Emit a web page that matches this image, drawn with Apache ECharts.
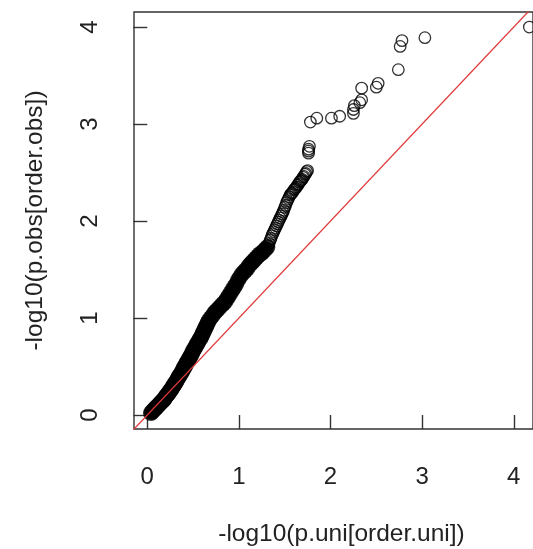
<!DOCTYPE html>
<html>
<head>
<meta charset="utf-8">
<script src="https://cdn.jsdelivr.net/npm/echarts@6/dist/echarts.min.js"></script>
<style>
  html, body { margin: 0; padding: 0; background: #fff; }
  #main { width: 533px; height: 549px; }
</style>
</head>
<body>
<div id="main"></div>
<script>
// tick positions on both axes
var xTicks = [0, 1, 2, 3, 4];
var yTicks = [0, 1, 2, 3, 4];

// lower part of the qq curve: so many points that the circles merge into a black band
var denseX = [0.04,0.05,0.06,0.07,0.08,0.09,0.10,0.11,0.12,0.13,0.14,0.15,0.16,0.17,0.18,0.19,0.20,
  0.21,0.22,0.23,0.24,0.25,0.26,0.27,0.28,0.29,0.30,0.31,0.32,0.33,0.34,0.35,0.36,0.37,0.38,0.39,0.40,
  0.41,0.42,0.43,0.44,0.45,0.46,0.47,0.48,0.49,0.50,0.51,0.52,0.53,0.54,0.55,0.56,0.57,0.58,0.59,0.60,
  0.61,0.62,0.63,0.64,0.65,0.66,0.67,0.69,0.71,0.73,0.75,0.77,0.79,0.81,0.83,0.85,0.87,0.89,0.91,0.93,
  0.95,0.97,0.99,1.01,1.03,1.05,1.07,1.09,1.11,1.13,1.15,1.17,1.19,1.21,1.23,1.25,1.27,1.29,1.31];
var denseY = [0.02,0.03,0.04,0.05,0.06,0.07,0.08,0.09,0.10,0.11,0.12,0.13,0.14,0.15,0.16,0.17,0.19,
  0.20,0.21,0.22,0.24,0.25,0.26,0.28,0.29,0.31,0.32,0.34,0.35,0.37,0.39,0.40,0.42,0.43,0.45,0.47,0.49,
  0.50,0.52,0.54,0.55,0.57,0.59,0.60,0.62,0.64,0.66,0.68,0.69,0.71,0.73,0.74,0.76,0.78,0.79,0.81,0.83,
  0.85,0.87,0.89,0.91,0.93,0.95,0.97,1.00,1.02,1.05,1.07,1.09,1.11,1.13,1.15,1.17,1.20,1.23,1.26,1.29,
  1.32,1.35,1.39,1.42,1.45,1.47,1.49,1.51,1.54,1.56,1.58,1.60,1.62,1.64,1.66,1.67,1.69,1.71,1.73];

// upper part of the band, where single circles still show
var upperX = [1.32,1.33,1.34,1.35,1.36,1.37,1.38,1.39,1.40,1.41,1.42,1.43,1.44,1.45,1.46,1.47,1.48,1.49,1.50,
  1.51,1.52,1.53,1.54,1.55,1.56,1.57,1.58,1.59,1.60,1.61,1.62,1.63,1.64,1.65,1.66,1.67,1.68,1.69,1.70,1.71,1.72,1.73,1.74,1.75];
var upperY = [1.75,1.77,1.80,1.82,1.85,1.87,1.89,1.91,1.93,1.95,1.97,1.99,2.01,2.03,2.05,2.07,2.09,2.11,2.14,
  2.16,2.19,2.21,2.23,2.25,2.27,2.28,2.29,2.30,2.32,2.33,2.34,2.35,2.37,2.38,2.40,2.41,2.42,2.43,2.45,2.46,2.48,2.49,2.51,2.52];

// sparse tail, point by point
var tailX = [1.76,1.76,1.76,1.77,1.78,1.85,2.01,2.10,2.25,2.25,2.26,2.32,2.34,2.34,2.50,2.52,2.74,2.76,2.78,3.03,4.17];
var tailY = [2.70,2.72,2.74,2.77,3.02,3.06,3.06,3.08,3.11,3.15,3.19,3.22,3.25,3.37,3.38,3.42,3.56,3.80,3.86,3.89,4.00];

// y = x reference
var refLine = [[-0.3, -0.3], [4.4, 4.4]];

function pairs(xs, ys) {
  var out = [];
  for (var i = 0; i < xs.length; i++) out.push([xs[i], ys[i]]);
  return out;
}

var fontFam = "'Liberation Sans', Arial, Helvetica, sans-serif";
var chart = echarts.init(document.getElementById('main'));

chart.setOption({
  animation: false,
  backgroundColor: '#fff',
  grid: {
    left: 134, top: 12, right: 0, bottom: 120,
    outerBoundsMode: 'none', containLabel: false,
    show: true, borderColor: '#333', borderWidth: 1.4, backgroundColor: 'transparent'
  },
  xAxis: {
    type: 'value', min: -0.145, max: 4.21,
    name: '-log10(p.uni[order.uni])', nameLocation: 'middle', nameGap: 93,
    // the source plot is cropped on the right, so its title sits a bit right of centre
    nameTextStyle: { fontSize: 24.5, fontFamily: fontFam, color: '#222', padding: [0, 0, 0, 16] },
    axisLine: { show: false },
    splitLine: { show: false },
    axisTick: { show: true, inside: false, length: 14, customValues: xTicks, lineStyle: { color: '#333', width: 1.4 } },
    axisLabel: { customValues: xTicks, margin: 36, fontSize: 24, fontFamily: fontFam, color: '#222' }
  },
  yAxis: {
    type: 'value', min: -0.144, max: 4.155,
    name: '-log10(p.obs[order.obs])', nameLocation: 'middle', nameGap: 86,
    nameTextStyle: { fontSize: 24.5, fontFamily: fontFam, color: '#222' },
    axisLine: { show: false },
    splitLine: { show: false },
    axisTick: { show: true, inside: false, length: 14, customValues: yTicks, lineStyle: { color: '#333', width: 1.4 } },
    axisLabel: { customValues: yTicks, rotate: 90, margin: 32, fontSize: 24, fontFamily: fontFam, color: '#222' }
  },
  series: [
    {
      type: 'scatter',
      data: pairs(denseX, denseY),
      symbol: 'circle',
      symbolSize: 16,
      itemStyle: { color: '#000' },
      emphasis: { disabled: true },
      z: 2
    },
    {
      type: 'scatter',
      data: pairs(upperX, upperY).concat(pairs(tailX, tailY)),
      symbol: 'circle',
      symbolSize: 11.5,
      itemStyle: { color: 'rgba(0,0,0,0)', borderColor: '#000', borderWidth: 1.3 },
      emphasis: { disabled: true },
      z: 2
    },
    {
      type: 'line',
      data: refLine,
      symbol: 'none',
      clip: true,
      lineStyle: { color: '#e0393b', width: 1.3 },
      z: 3
    }
  ]
});
</script>
</body>
</html>
